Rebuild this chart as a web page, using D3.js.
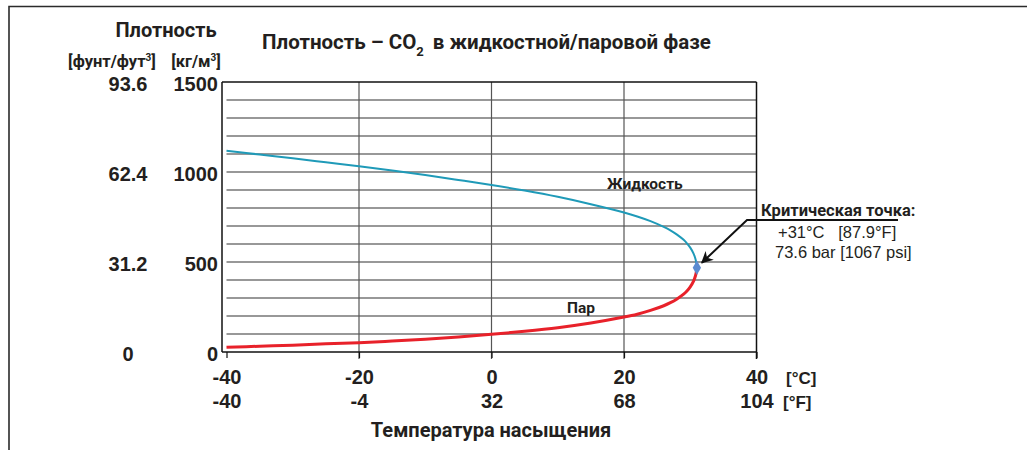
<!DOCTYPE html>
<html>
<head>
<meta charset="utf-8">
<script src="https://cdn.jsdelivr.net/npm/d3@7"></script>
<style>
  body { margin: 0; background: #fff; }
  svg { display: block; }
  .num { font-family: "Liberation Sans", Arial, sans-serif; font-weight: bold; fill: #231f20; }
  .lbl { font-family: Roboto, "Noto Sans", sans-serif; font-weight: bold; fill: #231f20; }
</style>
</head>
<body>
<div id="chart"></div>
<script>
// Saturation temperature, °C
const temps = [-40, -35, -30, -25, -20, -15, -10, -5, 0, 5, 10, 15, 20, 22, 24, 26, 27, 28, 29, 29.5, 30, 30.5, 30.8, 30.95, 31];
// Liquid density, kg/m3
const liquid = [1118, 1097, 1076, 1054, 1032, 1008, 983, 956, 928, 897, 862, 821, 775, 753, 727, 695, 676, 652, 623, 604, 580, 547, 515, 487, 468];
// Vapour density, kg/m3
const vapor = [26, 32, 38, 46, 52, 61, 71, 83, 98, 115, 135, 161, 194, 210, 231, 257, 274, 295, 321, 339, 362, 394, 425, 452, 468];

const celsiusTicks = [-40, -20, 0, 20, 40];
const fahrenheitLabels = ["-40", "-4", "32", "68", "104"];
const kgTicks = [0, 500, 1000, 1500];
const lbLabels = ["0", "31.2", "62.4", "93.6"];
const critical = { t: 31, rho: 468 };

const W = 1027, H = 450;
const svg = d3.select("#chart").append("svg")
  .attr("width", W).attr("height", H);

// outer frame (top + left only)
svg.append("path")
  .attr("d", `M9,450 L9,6.5 L${W},6.5`)
  .attr("fill", "none").attr("stroke", "#2b2b2b").attr("stroke-width", 1.6);

const x = d3.scaleLinear().domain([-40, 40]).range([226.5, 756.5]);
const y = d3.scaleLinear().domain([0, 1500]).range([352, 82]);
const axisX = 222; // y axis line sits a little left of -40

// horizontal grid every 100 kg/m3
const grid = svg.append("g");
grid.selectAll("line.h")
  .data(d3.range(100, 1500, 100))
  .enter().append("line")
  .attr("x1", x(-40)).attr("x2", x(40))
  .attr("y1", d => y(d)).attr("y2", d => y(d))
  .attr("stroke", "#333").attr("stroke-width", 1.1);

// vertical grid at temperature ticks
grid.selectAll("line.v")
  .data(celsiusTicks.slice(1))
  .enter().append("line")
  .attr("x1", d => x(d)).attr("x2", d => x(d))
  .attr("y1", y(1500)).attr("y2", y(0) + 7)
  .attr("stroke", d => d === 40 ? "#111" : "#555")
  .attr("stroke-width", d => d === 40 ? 1.5 : 1.2);

// top and bottom border lines + y axis line
svg.append("line").attr("x1", axisX).attr("x2", x(40))
  .attr("y1", y(1500)).attr("y2", y(1500)).attr("stroke", "#111").attr("stroke-width", 1.5);
svg.append("line").attr("x1", axisX).attr("x2", x(40))
  .attr("y1", y(0)).attr("y2", y(0)).attr("stroke", "#111").attr("stroke-width", 1.5);
svg.append("line").attr("x1", axisX).attr("x2", axisX)
  .attr("y1", y(1500)).attr("y2", y(0)).attr("stroke", "#111").attr("stroke-width", 1.5);

// x axes (°C with ticks, °F below)
const gC = svg.append("g").attr("transform", `translate(0,${y(0)})`)
  .call(d3.axisBottom(x).tickValues(celsiusTicks).tickSize(6).tickFormat(d => String(d)));
gC.select(".domain").remove();
gC.selectAll(".tick line").attr("stroke", "#111").attr("stroke-width", 1.2);
gC.selectAll(".tick text").attr("class", "num").attr("font-size", 20)
  .attr("y", 32).attr("dy", 0);

const gF = svg.append("g").attr("transform", `translate(0,${y(0)})`)
  .call(d3.axisBottom(x).tickValues(celsiusTicks).tickSize(0)
    .tickFormat((d, i) => fahrenheitLabels[i]));
gF.select(".domain").remove();
gF.selectAll(".tick text").attr("class", "num").attr("font-size", 20)
  .attr("y", 56).attr("dy", 0);

svg.append("text").attr("class", "num").attr("font-size", 17)
  .attr("x", 786).attr("y", 384).text("[°C]");
svg.append("text").attr("class", "num").attr("font-size", 17)
  .attr("x", 783).attr("y", 408).text("[°F]");

// y axes (kg/m3 right column, lb/ft3 left column)
const gK = svg.append("g").attr("transform", "translate(218,2)")
  .call(d3.axisLeft(y).tickValues(kgTicks).tickSize(0).tickPadding(0).tickFormat(d => String(d)));
gK.select(".domain").remove();
gK.selectAll(".tick text").attr("class", "num").attr("font-size", 20);

const gL = svg.append("g").attr("transform", "translate(128,2)")
  .call(d3.axisLeft(y).tickValues(kgTicks).tickSize(0).tickPadding(0)
    .tickFormat((d, i) => lbLabels[i]));
gL.select(".domain").remove();
gL.selectAll(".tick text").attr("class", "num").attr("font-size", 20)
  .attr("text-anchor", "middle");

// y titles
svg.append("text").attr("class", "lbl").attr("font-size", 20)
  .attr("x", 166).attr("y", 37).attr("text-anchor", "middle").text("Плотность");
const u1 = svg.append("text").attr("class", "lbl").attr("font-size", 16.5)
  .attr("x", 112).attr("y", 67).attr("text-anchor", "middle");
u1.append("tspan").text("[фунт/фут");
u1.append("tspan").attr("font-size", 10).attr("dy", -6).text("3");
u1.append("tspan").attr("dy", 6).text("]");
const u2 = svg.append("text").attr("class", "lbl").attr("font-size", 16.5)
  .attr("x", 196).attr("y", 67).attr("text-anchor", "middle");
u2.append("tspan").text("[кг/м");
u2.append("tspan").attr("font-size", 10).attr("dy", -6).text("3");
u2.append("tspan").attr("dy", 6).text("]");

// title
const title = svg.append("text").attr("class", "lbl").attr("font-size", 20.5)
  .attr("x", 262).attr("y", 49);
title.append("tspan").text("Плотность – CO");
title.append("tspan").attr("font-size", 13).attr("dy", 7).text("2");
title.append("tspan").attr("dy", -7).attr("dx", 9).text("в жидкостной/паровой фазе");

// x title
svg.append("text").attr("class", "lbl").attr("font-size", 20)
  .attr("x", 491).attr("y", 437).attr("text-anchor", "middle").text("Температура насыщения");

// curves
const line = (vals) => d3.line()
  .x((d, i) => x(temps[i]))
  .y(d => y(d))
  .curve(d3.curveCatmullRom.alpha(0.5))(vals);

svg.append("path").attr("d", line(liquid))
  .attr("fill", "none").attr("stroke", "#1f9ab8").attr("stroke-width", 2);
svg.append("path").attr("d", line(vapor))
  .attr("fill", "none").attr("stroke", "#e8212a").attr("stroke-width", 3);

svg.append("text").attr("class", "lbl").attr("font-size", 15.5)
  .attr("x", 607).attr("y", 189).text("Жидкость");
svg.append("text").attr("class", "lbl").attr("font-size", 15.5)
  .attr("x", 567).attr("y", 313).text("Пар");

// critical point marker
svg.append("path")
  .attr("d", d3.symbol().type(d3.symbolDiamond).size(60)())
  .attr("transform", `translate(${x(critical.t)},${y(critical.rho)})`)
  .attr("fill", "#5a8ad0");

// annotation with arrow
svg.append("defs").append("marker")
  .attr("id", "arr").attr("viewBox", "0 0 10 10")
  .attr("refX", 9).attr("refY", 5)
  .attr("markerWidth", 12).attr("markerHeight", 12)
  .attr("markerUnits", "userSpaceOnUse")
  .attr("orient", "auto")
  .append("path").attr("d", "M0,0 L10,5 L0,10 L3,5 Z").attr("fill", "#111");

svg.append("path")
  .attr("d", `M898,220 L747,220 L${x(critical.t) + 5},${y(critical.rho) - 5}`)
  .attr("fill", "none").attr("stroke", "#111").attr("stroke-width", 2)
  .attr("marker-end", "url(#arr)");

svg.append("text").attr("class", "lbl").attr("font-size", 16.5)
  .attr("x", 761).attr("y", 216).text("Критическая точка:");
svg.append("text").attr("font-family", "Liberation Sans, Arial, sans-serif")
  .attr("font-size", 16.5).attr("fill", "#231f20")
  .attr("x", 778).attr("y", 238).attr("xml:space", "preserve")
  .text("+31°C   [87.9°F]");
svg.append("text").attr("font-family", "Liberation Sans, Arial, sans-serif")
  .attr("font-size", 16.5).attr("fill", "#231f20")
  .attr("x", 775).attr("y", 258)
  .text("73.6 bar [1067 psi]");
</script>
</body>
</html>
